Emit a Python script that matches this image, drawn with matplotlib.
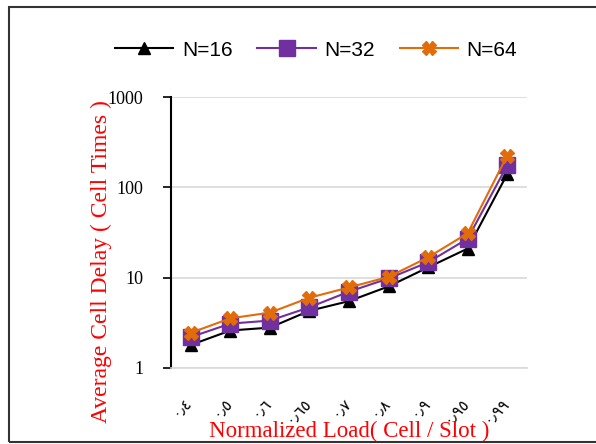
import matplotlib.pyplot as plt
from matplotlib.patches import Rectangle
from matplotlib.transforms import ScaledTranslation

# load labels (Arabic-Indic digits) and delay values
loads = ['٠٫٤', '٠٫٥', '٠٫٦', '٠٫٦٥', '٠٫٧', '٠٫٨', '٠٫٩', '٠٫٩٥', '٠٫٩٩']
n16 = [1.8, 2.6, 2.8, 4.3, 5.5, 8.0, 13.0, 21.0, 140.0]
n32 = [2.2, 3.1, 3.35, 4.7, 7.0, 9.8, 14.8, 27.0, 175.0]
n64 = [2.45, 3.55, 4.1, 6.0, 7.8, 10.2, 16.8, 31.0, 225.0]

fig = plt.figure(figsize=(5.96, 4.44), dpi=100)
ax = fig.add_axes([171/596, 1 - 368/444, (527-171)/596, (368-97)/444])

x = list(range(len(loads)))
ax.plot(x, n16, color='black', marker='^', markersize=8, lw=1.5, label='N=16', zorder=3)
ax.plot(x, n32, color='#7030A0', marker='s', markersize=12, lw=1.5, label='N=32', zorder=4)
ax.plot(x, n64, color='#E26B0A', marker='X', markersize=10, lw=1.5, label='N=64', zorder=5)

ax.set_yscale('log')
ax.set_ylim(1, 1000)
ax.set_xlim(-0.5, len(loads) - 0.5)
ax.set_yticks([1, 10, 100, 1000])
ax.set_yticklabels(['1', '10', '100', '1000'], fontfamily='Liberation Serif', fontsize=13)
ax.minorticks_off()
ax.tick_params(axis='y', length=6, width=1.2, pad=14)
ax.set_xticks(x)
ax.set_xticklabels(loads, rotation=45, ha='right', va='top', rotation_mode='anchor',
                   fontfamily='DejaVu Sans', fontsize=11)
ax.tick_params(axis='x', length=0, pad=19)
shift = ScaledTranslation(-6/100, 0, fig.dpi_scale_trans)
for lbl in ax.get_xticklabels():
    lbl.set_transform(lbl.get_transform() + shift)

ax.grid(axis='y', color='#D9D9D9', lw=1.2)
ax.set_axisbelow(True)
for s in ['top', 'right']:
    ax.spines[s].set_visible(False)
ax.spines['bottom'].set_color('#D9D9D9')
ax.spines['bottom'].set_linewidth(1.2)
ax.spines['left'].set_linewidth(1.5)

fig.text(101/596, 1 - 262/444, 'Average Cell Delay ( Cell Times )', rotation=90,
         color='red', fontfamily='Liberation Serif', fontsize=17, ha='center', va='center')
fig.text(349/596, 1 - 431/444, 'Normalized Load( Cell / Slot )',
         color='red', fontfamily='Liberation Serif', fontsize=16.5, ha='center', va='center')

fig.legend(loc='center', bbox_to_anchor=(316/596, 1 - 50/444), ncol=3, frameon=False,
           prop={'family': 'Liberation Sans', 'size': 15}, handlelength=2.8,
           columnspacing=1.2, handletextpad=0.4)

fig.patches.append(Rectangle((9/596, 2/444), 1.2, 1 - 9/444, transform=fig.transFigure,
                             fill=False, edgecolor='#333333', lw=1.5))

fig.savefig('out.png', dpi=100)
